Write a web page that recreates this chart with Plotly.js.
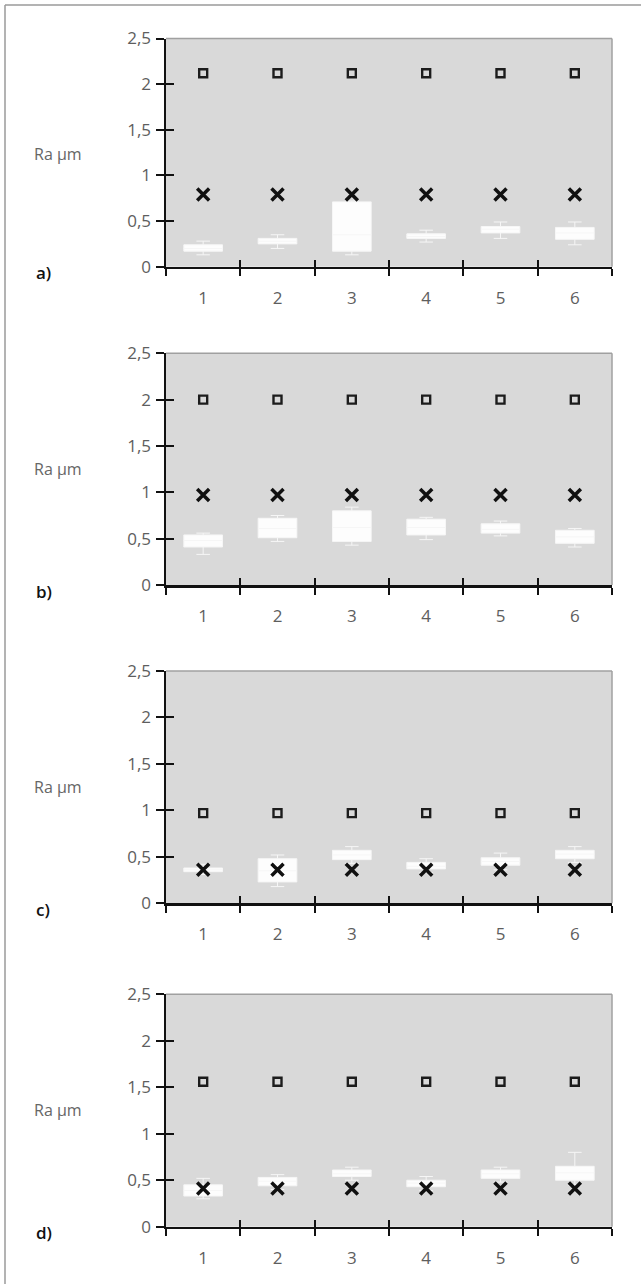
<!DOCTYPE html>
<html>
<head>
<meta charset="utf-8">
<script src="https://cdn.plot.ly/plotly-3.0.1.min.js"></script>
<style>html,body{margin:0;padding:0;background:#fff;}#chart{width:641px;height:1284px;}</style>
</head>
<body>
<div id="chart"></div>
<script>
// ---------- data ----------
const categories = [1, 2, 3, 4, 5, 6];
const xTickText = ['1', '2', '3', '4', '5', '6'];
const yTickVals = [0, 0.5, 1, 1.5, 2, 2.5];
const yTickText = ['0', '0,5', '1', '1,5', '2', '2,5'];
const panelLabels = ['a)', 'b)', 'c)', 'd)'];
const yTitle = 'Ra \u00b5m';

// open-square series
const squareA = [2.12, 2.12, 2.12, 2.12, 2.12, 2.12];
const squareB = [2.00, 2.00, 2.00, 2.00, 2.00, 2.00];
const squareC = [0.97, 0.97, 0.97, 0.97, 0.97, 0.97];
const squareD = [1.56, 1.56, 1.56, 1.56, 1.56, 1.56];
// cross series
const crossA = [0.79, 0.79, 0.79, 0.79, 0.79, 0.79];
const crossB = [0.97, 0.97, 0.97, 0.97, 0.97, 0.97];
const crossC = [0.36, 0.36, 0.36, 0.36, 0.36, 0.36];
const crossD = [0.41, 0.41, 0.41, 0.41, 0.41, 0.41];
// box statistics
const lowA = [0.13, 0.20, 0.13, 0.27, 0.31, 0.24];
const q1A  = [0.17, 0.25, 0.17, 0.31, 0.37, 0.30];
const medA = [0.20, 0.28, 0.35, 0.33, 0.41, 0.37];
const q3A  = [0.24, 0.31, 0.71, 0.36, 0.44, 0.43];
const upA  = [0.28, 0.35, 0.72, 0.40, 0.49, 0.49];

const lowB = [0.33, 0.47, 0.43, 0.49, 0.53, 0.41];
const q1B  = [0.41, 0.51, 0.47, 0.54, 0.56, 0.45];
const medB = [0.48, 0.61, 0.62, 0.62, 0.60, 0.52];
const q3B  = [0.54, 0.72, 0.80, 0.71, 0.66, 0.59];
const upB  = [0.56, 0.75, 0.84, 0.73, 0.69, 0.61];

const lowC = [0.31, 0.18, 0.43, 0.33, 0.36, 0.44];
const q1C  = [0.34, 0.23, 0.47, 0.37, 0.41, 0.48];
const medC = [0.36, 0.35, 0.52, 0.40, 0.45, 0.53];
const q3C  = [0.38, 0.48, 0.57, 0.44, 0.49, 0.57];
const upC  = [0.42, 0.52, 0.61, 0.48, 0.54, 0.61];

const lowD = [0.30, 0.40, 0.50, 0.39, 0.48, 0.45];
const q1D  = [0.33, 0.44, 0.54, 0.43, 0.52, 0.50];
const medD = [0.39, 0.49, 0.57, 0.47, 0.57, 0.58];
const q3D  = [0.45, 0.53, 0.61, 0.50, 0.61, 0.65];
const upD  = [0.52, 0.56, 0.64, 0.54, 0.64, 0.80];

// ---------- layout geometry ----------
const W = 641, H = 1284;
const plotLeft = 166, plotRight = 612;
const panelTops = [38.5, 353.3, 671, 994.3];
const panelBottoms = [266.7, 585, 903.3, 1226.7];

const panels = [
  {sq: squareA, cr: crossA, low: lowA, q1: q1A, med: medA, q3: q3A, up: upA},
  {sq: squareB, cr: crossB, low: lowB, q1: q1B, med: medB, q3: q3B, up: upB},
  {sq: squareC, cr: crossC, low: lowC, q1: q1C, med: medC, q3: q3C, up: upC},
  {sq: squareD, cr: crossD, low: lowD, q1: q1D, med: medD, q3: q3D, up: upD}
];

const boundaries = [0.5, 1.5, 2.5, 3.5, 4.5, 5.5, 6.5];
const tickFont = {family: 'Open Sans, sans-serif', size: 17, color: '#5e5e5e'};

const data = [];
const layout = {
  width: W, height: H,
  margin: {l: 0, r: 0, t: 0, b: 0},
  paper_bgcolor: '#ffffff',
  plot_bgcolor: '#d9d9d9',
  showlegend: false,
  shapes: [],
  annotations: []
};

panels.forEach((p, i) => {
  const n = i + 1;
  const sfx = n === 1 ? '' : String(n);
  const xa = 'x' + sfx, ya = 'y' + sfx;
  const ov = String(n + 4);
  const ydom = [1 - panelBottoms[i] / H, 1 - panelTops[i] / H];
  const xdom = [plotLeft / W, plotRight / W];

  data.push({
    type: 'box', x: categories, q1: p.q1, median: p.med, q3: p.q3,
    lowerfence: p.low, upperfence: p.up,
    xaxis: xa, yaxis: ya, width: 0.52, whiskerwidth: 0.35,
    fillcolor: 'rgba(255,255,255,0.93)',
    line: {color: '#f6f6f6', width: 1}, hoverinfo: 'skip', boxpoints: false
  });
  data.push({
    type: 'scatter', mode: 'markers', x: categories, y: p.sq, xaxis: xa, yaxis: ya,
    marker: {symbol: 'square-open', size: 8, color: '#1c1c1c', line: {width: 2.4, color: '#1c1c1c'}},
    hoverinfo: 'skip'
  });
  data.push({
    type: 'scatter', mode: 'markers', x: categories, y: p.cr, xaxis: xa, yaxis: ya,
    marker: {symbol: 'x-thin-open', size: 12, color: '#111', line: {width: 3.5, color: '#111'}},
    hoverinfo: 'skip'
  });
  // empty traces so the overlay tick axes get drawn
  data.push({type: 'scatter', mode: 'markers', x: [], y: [], xaxis: 'x' + ov, yaxis: ya, hoverinfo: 'skip'});
  data.push({type: 'scatter', mode: 'markers', x: [], y: [], xaxis: xa, yaxis: 'y' + ov, hoverinfo: 'skip'});

  layout['xaxis' + sfx] = {
    domain: xdom, anchor: ya, range: [0.5, 6.5], fixedrange: true,
    tickmode: 'array', tickvals: categories, ticktext: xTickText, ticks: '',
    ticklabelstandoff: 14, tickfont: tickFont,
    showline: true, linecolor: '#111', linewidth: 2.5,
    showgrid: false, zeroline: false,
    minor: {tickmode: 'array', tickvals: boundaries, ticks: 'outside', ticklen: 7, tickwidth: 2, tickcolor: '#111', showgrid: false}
  };
  layout['yaxis' + sfx] = {
    domain: ydom, anchor: xa, range: [0, 2.5], fixedrange: true,
    tickmode: 'array', tickvals: yTickVals, ticktext: yTickText,
    ticks: 'outside', ticklen: 8, tickwidth: 2, tickcolor: '#111',
    ticklabelstandoff: 1, tickfont: tickFont,
    showline: true, linecolor: '#111', linewidth: 2.5,
    showgrid: false, zeroline: false
  };
  // overlay axes for the inner half of the crossing ticks
  layout['xaxis' + ov] = {
    overlaying: xa, anchor: ya, side: 'bottom', range: [0.5, 6.5], fixedrange: true,
    tickmode: 'array', tickvals: boundaries, ticks: 'inside', ticklen: 7, tickwidth: 2, tickcolor: '#111',
    showticklabels: false, showline: false, showgrid: false, zeroline: false
  };
  layout['yaxis' + ov] = {
    overlaying: ya, anchor: xa, side: 'left', range: [0, 2.5], fixedrange: true,
    tickmode: 'array', tickvals: yTickVals, ticks: 'inside', ticklen: 8, tickwidth: 2, tickcolor: '#111',
    showticklabels: false, showline: false, showgrid: false, zeroline: false
  };

  // light border on top and right of plot area
  layout.shapes.push({type: 'line', xref: xa + ' domain', yref: ya + ' domain', x0: 0, x1: 1, y0: 1, y1: 1, line: {color: '#a0a0a0', width: 1.5}, layer: 'above'});
  layout.shapes.push({type: 'line', xref: xa + ' domain', yref: ya + ' domain', x0: 1, x1: 1, y0: 0, y1: 1, line: {color: '#a0a0a0', width: 1.5}, layer: 'above'});

  layout.annotations.push({
    xref: 'paper', yref: 'paper', x: 34 / W, y: 1 - (panelBottoms[i] + 6) / H,
    xanchor: 'left', yanchor: 'middle', showarrow: false, text: panelLabels[i],
    font: {family: 'Open Sans, sans-serif', size: 17, color: '#111', weight: 600}
  });
  layout.annotations.push({
    xref: 'paper', yref: 'paper', x: 32 / W, y: 1 - (panelTops[i] + 116) / H,
    xanchor: 'left', yanchor: 'middle', showarrow: false, text: yTitle,
    font: {family: 'Open Sans, sans-serif', size: 16, color: '#666'}
  });
});

// outer frame (left and top edges)
layout.shapes.push({type: 'line', xref: 'paper', yref: 'paper', x0: 5 / W, x1: 5 / W, y0: 0, y1: 1 - 5 / H, line: {color: '#9a9a9a', width: 1.5}});
layout.shapes.push({type: 'line', xref: 'paper', yref: 'paper', x0: 5 / W, x1: 1, y0: 1 - 5 / H, y1: 1 - 5 / H, line: {color: '#9a9a9a', width: 1.5}});

Plotly.newPlot('chart', data, layout, {staticPlot: true, displayModeBar: false});
</script>
</body>
</html>
